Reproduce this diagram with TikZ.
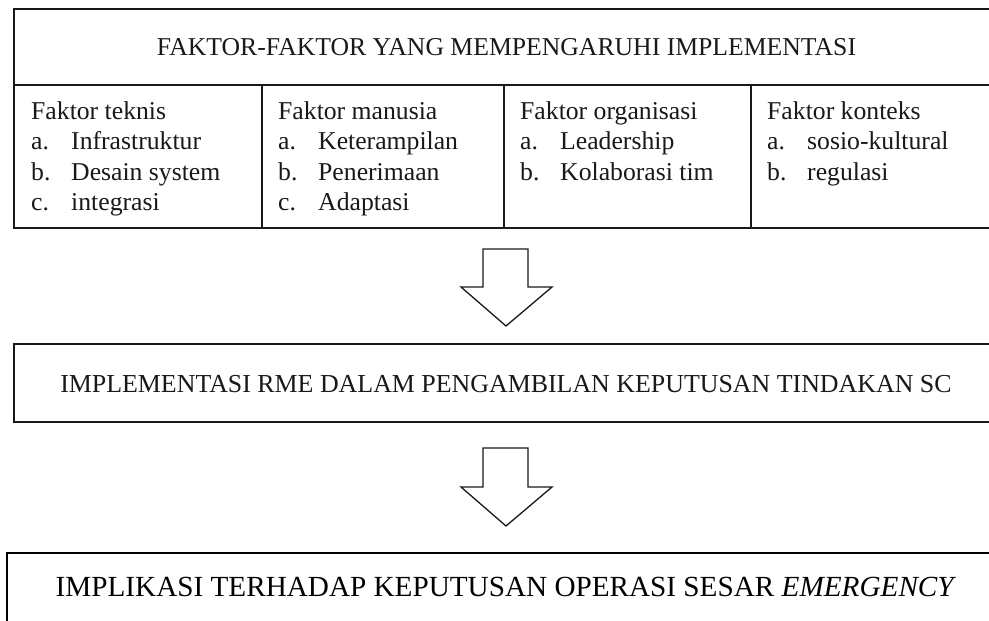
\documentclass[tikz,border=0pt]{standalone}
\usepackage{fontspec}
\setmainfont{Liberation Serif}
\begin{document}
\begin{tikzpicture}[x=1pt,y=-1pt,
  frame/.style={line width=1.8pt, draw=black!90},
  divider/.style={line width=2.2pt, draw=black!90},
  blockarrow/.style={draw=black!90, line width=1.3pt, fill=white, line join=miter},
  txt/.style={font=\fontsize{25.7}{30}\selectfont, inner sep=0pt, text=black!90},
  midtxt/.style={font=\fontsize{25.9}{30}\selectfont, inner sep=0pt, text=black!90},
  bigtxt/.style={font=\fontsize{29.2}{34}\selectfont, inner sep=0pt, text=black},
  lbl/.style={txt, anchor=base west}]
\clip (0,0) rectangle (989,621);
\fill[white] (0,0) rectangle (989,621);

% top box
\draw[frame] (1010,9) -- (14,9) -- (14,228) -- (1010,228);
\draw[frame] (14,85) -- (1010,85);
\draw[divider] (262,85) -- (262,228);
\draw[divider] (504,85) -- (504,228);
\draw[divider] (751,85) -- (751,228);
\node[txt, anchor=base] (head) at (506.5,56) {FAKTOR-FAKTOR YANG MEMPENGARUHI IMPLEMENTASI};

% column 1
\node[lbl] (c1) at (31,119) {Faktor teknis};
\node[lbl] (c1a) at (31,149.5) {a.};
\node[lbl] (c1at) at (71,149.5) {Infrastruktur};
\node[lbl] (c1b) at (31,180) {b.};
\node[lbl] (c1bt) at (71,180) {Desain system};
\node[lbl] (c1c) at (31,210) {c.};
\node[lbl] (c1ct) at (71,210) {integrasi};

% column 2
\node[lbl] (c2) at (278,119) {Faktor manusia};
\node[lbl] (c2a) at (278,149.5) {a.};
\node[lbl] (c2at) at (318,149.5) {Keterampilan};
\node[lbl] (c2b) at (278,180) {b.};
\node[lbl] (c2bt) at (318,180) {Penerimaan};
\node[lbl] (c2c) at (278,210) {c.};
\node[lbl] (c2ct) at (318,210) {Adaptasi};

% column 3
\node[lbl] (c3) at (520,119) {Faktor organisasi};
\node[lbl] (c3a) at (520,149.5) {a.};
\node[lbl] (c3at) at (560,149.5) {Leadership};
\node[lbl] (c3b) at (520,180) {b.};
\node[lbl] (c3bt) at (560,180) {Kolaborasi tim};

% column 4
\node[lbl] (c4) at (767,119) {Faktor konteks};
\node[lbl] (c4a) at (767,149.5) {a.};
\node[lbl] (c4at) at (807,149.5) {sosio-kultural};
\node[lbl] (c4b) at (767,180) {b.};
\node[lbl] (c4bt) at (807,180) {regulasi};

% arrow 1
\draw[blockarrow] (483,249) -- (528,249) -- (528,287) -- (552,287) -- (506,326) -- (461,287) -- (483,287) -- cycle;

% middle box
\draw[frame] (1010,344) -- (14,344) -- (14,422) -- (1010,422);
\node[midtxt, anchor=base] (mid) at (506,392.5) {IMPLEMENTASI RME DALAM PENGAMBILAN KEPUTUSAN TINDAKAN SC};

% arrow 2
\draw[blockarrow] (483,448) -- (528,448) -- (528,487) -- (552,487) -- (506,526) -- (461,487) -- (483,487) -- cycle;

% bottom box
\draw[line width=2.4pt, draw=black] (1010,553) -- (7,553) -- (7,640);
\node[bigtxt, anchor=base] (bot) at (506,596) {IMPLIKASI TERHADAP KEPUTUSAN OPERASI SESAR \textit{EMERGENCY}};
\end{tikzpicture}
\end{document}
